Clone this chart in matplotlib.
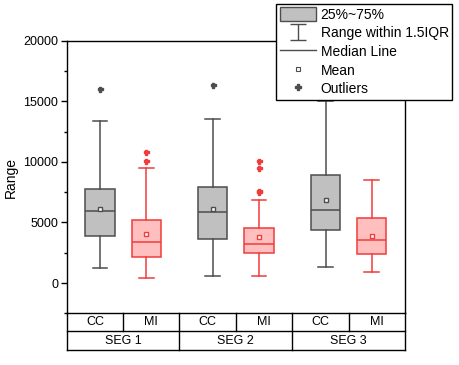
import matplotlib
matplotlib.use('Agg')
import matplotlib.pyplot as plt
import matplotlib.transforms as mtransforms
from matplotlib.path import Path
from matplotlib.patches import Patch
from matplotlib.lines import Line2D

plt.rcParams['font.family'] = ['Liberation Sans', 'DejaVu Sans']

# ── data ──────────────────────────────────────────────────────────
segments = ['SEG 1', 'SEG 2', 'SEG 3']
groups = ['CC', 'MI']

cc_q1 = [3900, 3630, 4370]
cc_med = [5940, 5850, 6020]
cc_q3 = [7750, 7910, 8900]
cc_lo = [1240, 580, 1320]
cc_hi = [13360, 13520, 15000]
cc_mean = [6100, 6150, 6890]
cc_fliers = [[16000], [16320], []]

mi_q1 = [2170, 2470, 2420]
mi_med = [3380, 3220, 3550]
mi_q3 = [5190, 4530, 5380]
mi_lo = [410, 580, 910]
mi_hi = [9480, 6840, 8520]
mi_mean = [4010, 3760, 3840]
mi_fliers = [[10080, 10800], [7550, 7630, 9480, 10080], []]

GRAY_EC, GRAY_FC = '#4D4D4D', '#C0C0C0'
RED_EC, RED_FC = '#F03C3C', '#FFBFBF'


def make_stats(q1, med, q3, lo, hi, mean, fliers):
    return [dict(q1=a, med=b, q3=c, whislo=d, whishi=e, mean=f, fliers=g)
            for a, b, c, d, e, f, g in zip(q1, med, q3, lo, hi, mean, fliers)]


fig = plt.figure(figsize=(4.6, 3.65), dpi=100)
ax = fig.add_axes([0.145, 0.1416, 0.7355, 0.7469])

pos = list(range(1, len(segments) + 1))
off, bw = 0.205, 0.26

for stats, shift, ec, fc in [
    (make_stats(cc_q1, cc_med, cc_q3, cc_lo, cc_hi, cc_mean, cc_fliers), -off, GRAY_EC, GRAY_FC),
    (make_stats(mi_q1, mi_med, mi_q3, mi_lo, mi_hi, mi_mean, mi_fliers), off, RED_EC, RED_FC),
]:
    ax.bxp(stats, positions=[p + shift for p in pos], widths=bw, capwidths=bw / 2,
           patch_artist=True, showmeans=True, manage_ticks=False,
           boxprops=dict(facecolor=fc, edgecolor=ec, linewidth=1.1),
           medianprops=dict(color=ec, linewidth=1.1),
           whiskerprops=dict(color=ec, linewidth=1.1),
           capprops=dict(color=ec, linewidth=1.1),
           meanprops=dict(marker='s', markersize=3.5, markerfacecolor='white',
                          markeredgecolor=ec, markeredgewidth=1.0),
           flierprops=dict(marker='P', markersize=3.6, markerfacecolor=ec,
                           markeredgecolor=ec, linestyle='none'))

ax.set_xlim(0.5, 3.5)
ax.set_ylim(-2500, 20000)
ax.set_yticks([0, 5000, 10000, 15000, 20000])
ax.set_yticks([-2500, 2500, 7500, 12500, 17500], minor=True)
ax.set_xticks([])
ax.tick_params(axis='y', which='major', direction='out', length=4, width=1, labelsize=9, pad=2)
ax.tick_params(axis='y', which='minor', direction='out', length=2.5, width=1)
for s in ax.spines.values():
    s.set_linewidth(1.0)
ax.set_ylabel('Range', fontsize=10, labelpad=4)

# ── category table under the axis ─────────────────────────────────
tr = mtransforms.blended_transform_factory(ax.transData, ax.transAxes)
r1, r2 = -0.065, -0.1346
kw = dict(color='black', linewidth=1.0, transform=tr, clip_on=False)
ax.plot([0.5, 3.5], [r1, r1], **kw)
ax.plot([0.5, 3.5], [r2, r2], **kw)
for x in [0.5, 1.5, 2.5, 3.5]:
    ax.plot([x, x], [0, r2], **kw)
for x in pos:
    ax.plot([x, x], [0, r1], **kw)
for i, seg in enumerate(segments):
    p = pos[i]
    for j, g in enumerate(groups):
        ax.text(p - 0.25 + 0.5 * j, r1 / 2, g, transform=tr, ha='center', va='center', fontsize=9)
    ax.text(p, (r1 + r2) / 2, seg, transform=tr, ha='center', va='center', fontsize=9)

# ── legend ───────────────────────────────────────────────────────
ibeam = Path([(-1, 1), (1, 1), (0, 1), (0, -1), (-1, -1), (1, -1)],
             [Path.MOVETO, Path.LINETO, Path.MOVETO, Path.LINETO, Path.MOVETO, Path.LINETO])
handles = [
    Patch(facecolor=GRAY_FC, edgecolor=GRAY_EC, linewidth=1.0),
    Line2D([], [], marker=ibeam, markersize=12, color=GRAY_EC, linestyle='none', markeredgewidth=1.0),
    Line2D([], [], color=GRAY_EC, linewidth=1.0),
    Line2D([], [], marker='s', markersize=3, markerfacecolor='white', markeredgecolor=GRAY_EC,
           linestyle='none', markeredgewidth=0.8),
    Line2D([], [], marker='P', markersize=4, color=GRAY_EC, linestyle='none'),
]
labels = ['25%~75%', 'Range within 1.5IQR', 'Median Line', 'Mean', 'Outliers']
leg = fig.legend(handles, labels, loc='upper right', bbox_to_anchor=(0.983, 0.989),
                 fontsize=10, frameon=True, fancybox=False, framealpha=1,
                 edgecolor='black', handlelength=2.6, handleheight=1.1,
                 labelspacing=0.3, borderpad=0.25, handletextpad=0.35, borderaxespad=0)
leg.get_frame().set_linewidth(1.0)

fig.savefig('out.png', dpi=100)
